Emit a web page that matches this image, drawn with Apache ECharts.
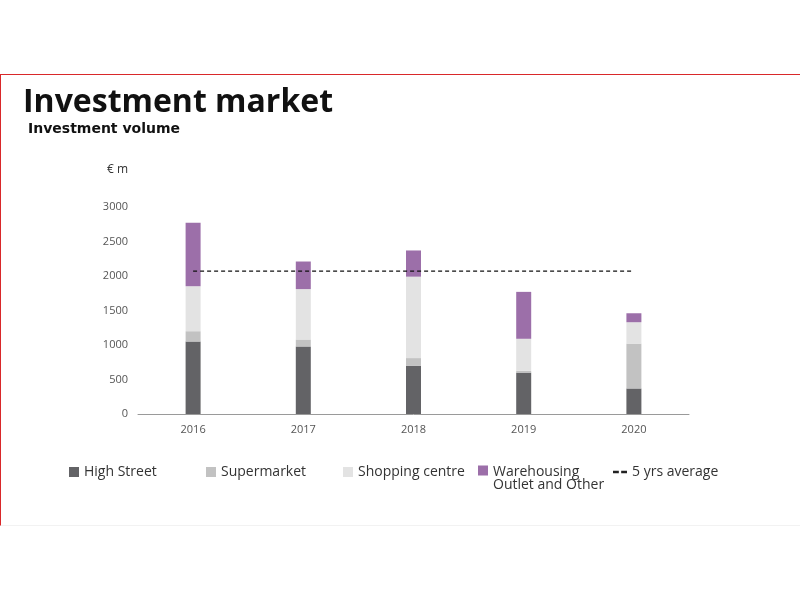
<!DOCTYPE html>
<html>
<head>
<meta charset="utf-8">
<script src="https://cdn.jsdelivr.net/npm/echarts@6/dist/echarts.min.js"></script>
<style>
  html, body { margin: 0; padding: 0; background: #fff; }
  #frame {
    position: absolute; left: 0; top: 74px; width: 799px; height: 450px;
    border-top: 1px solid #d9282a; border-left: 1px solid #d9282a;
    border-bottom: 1px solid #f2f2f2;
  }
  #main { position: absolute; left: 0; top: 0; width: 800px; height: 600px; }
</style>
</head>
<body>
<div id="frame"></div>
<div id="main"></div>
<script>
// categories and values (€ m)
const years = ["2016", "2017", "2018", "2019", "2020"];
const highStreet = [1050, 980, 700, 600, 370];
const supermarket = [150, 100, 110, 25, 650];
const shoppingCentre = [650, 730, 1180, 465, 310];
const warehousing = [920, 400, 380, 680, 130];
const fiveYrAverage = [2070, 2070, 2070, 2070, 2070];
const yTicks = [0, 500, 1000, 1500, 2000, 2500, 3000];

const font = "Open Sans";
const legendText = { color: "#333", fontSize: 14, fontFamily: font, lineHeight: 13 };

const myChart = echarts.init(document.getElementById("main"));

const option = {
  animation: false,
  title: [
    {
      // main title
      text: "Investment market",
      left: 18, top: 82,
      textStyle: { fontFamily: font, fontSize: 32, fontWeight: 700, color: "#111" }
    },
    {
      text: "Investment volume",
      left: 23, top: 117,
      textStyle: { fontFamily: "DejaVu Sans", fontSize: 14, fontWeight: 700, color: "#111" }
    },
    {
      text: "€ m",
      left: 102, top: 159,
      textStyle: { fontFamily: font, fontSize: 12, fontWeight: 400, color: "#333" }
    }
  ],
  grid: { left: 138, right: 111, top: 207, bottom: 186 },
  legend: [
    { data: ["High Street"], left: 64, top: 460 },
    { data: ["Supermarket"], left: 201, top: 460 },
    { data: ["Shopping centre"], left: 338, top: 460 },
    {
      // square sits on the first of the two text lines
      data: [{ name: "Warehousing\nOutlet and Other", icon: "path://M0,0h10v10h-10zM0,25.99h0.01v0.01h-0.01z" }],
      left: 473, top: 460, itemHeight: 26
    },
    {
      data: [{ name: "5 yrs average", icon: "path://M0,0h5v2h-5zM7,0h5v2h-5z" }],
      left: 608, top: 460, itemWidth: 14, itemHeight: 3
    }
  ].map(l => Object.assign({
    icon: "rect",
    itemWidth: 10, itemHeight: 10, itemGap: 6,
    textStyle: legendText,
    selectedMode: false
  }, l)),
  xAxis: {
    type: "category",
    data: years,
    axisLine: { lineStyle: { color: "#9a9a9a", width: 1 } },
    axisTick: { show: false },
    axisLabel: { color: "#555", fontSize: 11, fontFamily: font, margin: 10 }
  },
  yAxis: {
    type: "value",
    min: 0, max: 3000, interval: 500,
    axisLine: { show: false },
    axisTick: { show: false },
    splitLine: { show: false },
    axisLabel: {
      color: "#555", fontSize: 11, fontFamily: font, margin: 10,
      formatter: v => (yTicks.includes(v) ? String(v) : "")
    }
  },
  series: [
    { name: "High Street", type: "bar", stack: "vol", barWidth: 15, data: highStreet, itemStyle: { color: "#636366" } },
    { name: "Supermarket", type: "bar", stack: "vol", data: supermarket, itemStyle: { color: "#c2c2c2" } },
    { name: "Shopping centre", type: "bar", stack: "vol", data: shoppingCentre, itemStyle: { color: "#e3e3e3" } },
    { name: "Warehousing\nOutlet and Other", type: "bar", stack: "vol", data: warehousing, itemStyle: { color: "#9c6fa9" } },
    {
      name: "5 yrs average",
      type: "line",
      data: fiveYrAverage,
      symbol: "none",
      z: 5,
      lineStyle: { color: "#111", width: 1.2, type: [4, 3] },
      itemStyle: { color: "#222" }
    }
  ]
};

myChart.setOption(option);
</script>
</body>
</html>
